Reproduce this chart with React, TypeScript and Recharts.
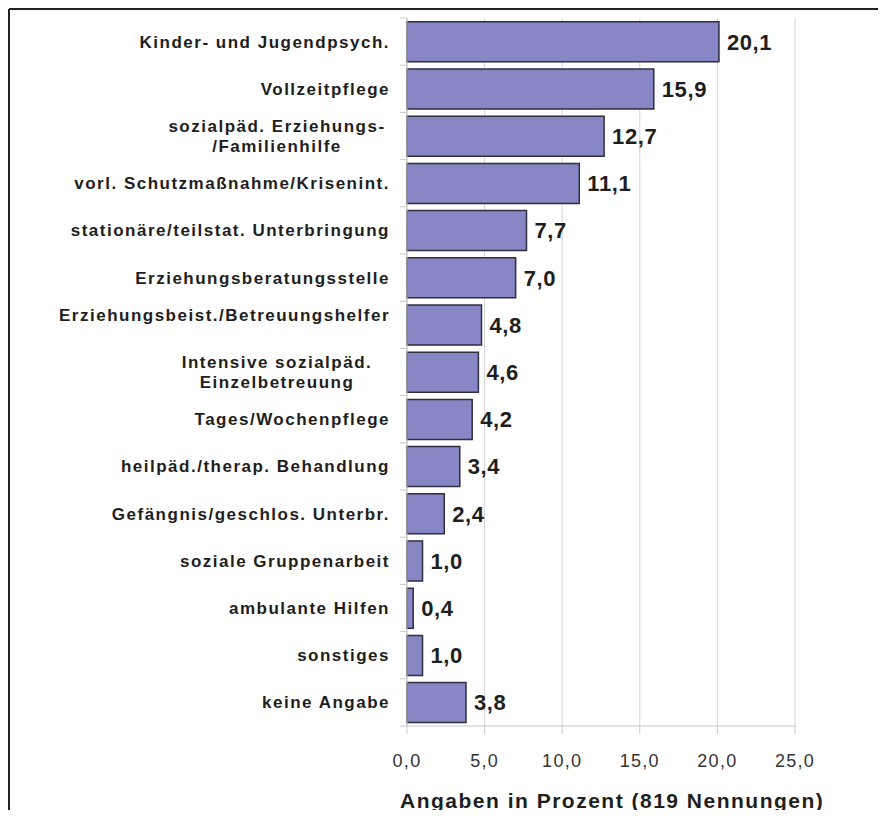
import React from "react";
import { BarChart, Bar, XAxis, YAxis, CartesianGrid, LabelList } from "recharts";

const categories: string[] = [
  "Kinder- und Jugendpsych.",
  "Vollzeitpflege",
  "sozialpäd. Erziehungs-/Familienhilfe",
  "vorl. Schutzmaßnahme/Krisenint.",
  "stationäre/teilstat. Unterbringung",
  "Erziehungsberatungsstelle",
  "Erziehungsbeist./Betreuungshelfer",
  "Intensive sozialpäd. Einzelbetreuung",
  "Tages/Wochenpflege",
  "heilpäd./therap. Behandlung",
  "Gefängnis/geschlos. Unterbr.",
  "soziale Gruppenarbeit",
  "ambulante Hilfen",
  "sonstiges",
  "keine Angabe",
];

const labelLines: string[][] = [
  ["Kinder- und Jugendpsych."],
  ["Vollzeitpflege"],
  ["sozialpäd. Erziehungs-", "/Familienhilfe"],
  ["vorl. Schutzmaßnahme/Krisenint."],
  ["stationäre/teilstat. Unterbringung"],
  ["Erziehungsberatungsstelle"],
  ["Erziehungsbeist./Betreuungshelfer", ""],
  ["Intensive sozialpäd.", "Einzelbetreuung"],
  ["Tages/Wochenpflege"],
  ["heilpäd./therap. Behandlung"],
  ["Gefängnis/geschlos. Unterbr."],
  ["soziale Gruppenarbeit"],
  ["ambulante Hilfen"],
  ["sonstiges"],
  ["keine Angabe"],
];

const values: number[] = [20.1, 15.9, 12.7, 11.1, 7.7, 7.0, 4.8, 4.6, 4.2, 3.4, 2.4, 1.0, 0.4, 1.0, 3.8];

const xTicks: number[] = [0, 5, 10, 15, 20, 25];

const axisTitle = "Angaben in Prozent (819 Nennungen)";

const data = categories.map((name, i) => ({ name, value: values[i] }));

const fmt = (v: number) => Number(v).toFixed(1).replace(".", ",");

const FONT = "'Liberation Sans', Arial, sans-serif";
const TICK_MARGIN = 17;
const HALF_BAND = 23.6;

const YTick = (props: any) => {
  const { x, y, payload } = props;
  const idx = categories.indexOf(payload.value);
  const lines = labelLines[idx] || [payload.value];
  const nonEmpty = lines.filter((l) => l.length > 0).length;
  const lh = 20;
  const startY = y - ((lines.length - 1) * lh) / 2;
  const centered = nonEmpty > 1;
  const ax = x + TICK_MARGIN;
  return (
    <g>
      <line x1={ax - 7} x2={ax} y1={y - HALF_BAND} y2={y - HALF_BAND} stroke="#c8c8c8" />
      {idx === categories.length - 1 && (
        <line x1={ax - 7} x2={ax} y1={y + HALF_BAND} y2={y + HALF_BAND} stroke="#c8c8c8" />
      )}
      {lines.map((l, k) => (
        <text
          key={k}
          x={centered ? x - 113 : x}
          y={startY + k * lh}
          dy="0.35em"
          textAnchor={centered ? "middle" : "end"}
          fontFamily={FONT}
          fontWeight="bold"
          fontSize={17}
          letterSpacing={1.5}
          fill="#1e1e1e"
        >
          {l}
        </text>
      ))}
    </g>
  );
};

const TitleLabel = (props: any) => {
  const vb = props.viewBox || {};
  return (
    <text
      x={(vb.x ?? 407) - 7}
      y={(vb.y ?? 726) + 75}
      dy="0.35em"
      textAnchor="start"
      fontFamily={FONT}
      fontWeight="bold"
      fontSize={21}
      letterSpacing={1.5}
      fill="#1e1e1e"
    >
      {axisTitle}
    </text>
  );
};

export default function App() {
  return (
    <div style={{ position: "relative", width: 886, height: 818, margin: -8, background: "#fff" }}>
      <svg width={886} height={818} style={{ position: "absolute", left: 0, top: 0 }}>
        <line x1={9} y1={9} x2={886} y2={9} stroke="#222" strokeWidth={2} />
        <line x1={9} y1={9} x2={9} y2={818} stroke="#222" strokeWidth={2} />
      </svg>
      <div style={{ position: "absolute", left: 0, top: 0 }}>
        <BarChart
          width={886}
          height={818}
          data={data}
          layout="vertical"
          margin={{ top: 18, right: 91, bottom: 2, left: 0 }}
          barCategoryGap="8%"
        >
          <CartesianGrid horizontal={false} vertical={true} stroke="#d4d4d4" />
          <XAxis
            type="number"
            domain={[0, 25]}
            ticks={xTicks}
            tickFormatter={fmt}
            interval={0}
            height={90}
            tickSize={8}
            tickMargin={20}
            stroke="#c8c8c8"
            tick={{ fill: "#333", fontSize: 18, fontFamily: FONT, letterSpacing: 1.3 }}
            label={<TitleLabel />}
          />
          <XAxis
            xAxisId="top"
            type="number"
            orientation="top"
            domain={[0, 25]}
            height={0}
            tick={false}
            tickLine={false}
            stroke="#d4d4d4"
          />
          <YAxis
            type="category"
            dataKey="name"
            width={407}
            tickSize={0}
            tickMargin={TICK_MARGIN}
            interval={0}
            stroke="#c8c8c8"
            tickLine={false}
            tick={<YTick />}
          />
          <Bar dataKey="value" fill="#8787c5" stroke="#2e2e40" strokeWidth={1.5} isAnimationActive={false}>
            <LabelList
              dataKey="value"
              position="right"
              offset={8}
              formatter={fmt}
              style={{ fontFamily: FONT, fontWeight: "bold", fontSize: 22, letterSpacing: 0.6, fill: "#1e1e1e" }}
            />
          </Bar>
        </BarChart>
      </div>
    </div>
  );
}
